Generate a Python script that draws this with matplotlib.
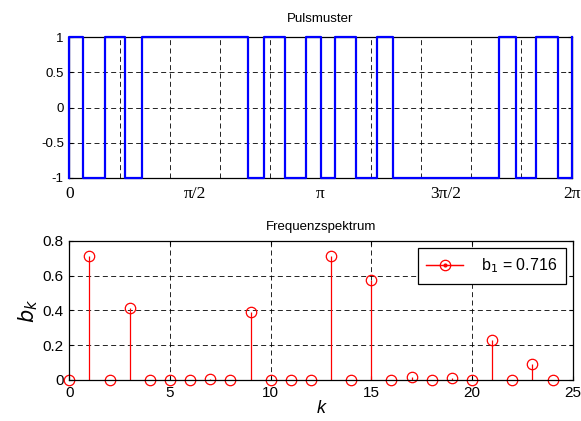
import numpy as np
import matplotlib
matplotlib.use("Agg")
import matplotlib.pyplot as plt
from matplotlib.lines import Line2D
from matplotlib.legend_handler import HandlerLine2D, HandlerTuple

# ---------------- data ----------------
# switching angles (rad) of the pulse pattern
switch_angles = [0.172, 0.442, 0.697, 0.906, 2.238, 2.437, 2.702, 2.962,
                 np.pi, 3.321, 3.580, 3.846, 4.045, 5.377, 5.586, 5.841, 6.111]
start_level = 1

k_values = list(range(25))
b_values = [0.0, 0.716, 0.0, 0.413, 0.0, 0.0, 0.0, 0.008, 0.0, 0.391,
            0.0, 0.0, 0.0, 0.714, 0.0, 0.574, 0.0, 0.019, 0.0, 0.013,
            0.0, 0.232, 0.0, 0.092, 0.0]

pi_tick_pos = [0, np.pi / 2, np.pi, 3 * np.pi / 2, 2 * np.pi]
pi_tick_labels = ["0", "π/2", "π", "3π/2", "2π"]
grid_pos_top = [i * 0.2 * np.pi for i in range(11)]
yticks_top = [-1, -0.5, 0, 0.5, 1]
yticklabels_top = ["-1", "-0.5", "0", "0.5", "1"]
xticks_bot = [0, 5, 10, 15, 20, 25]
yticks_bot = [0, 0.2, 0.4, 0.6, 0.8]
yticklabels_bot = ["0", "0.2", "0.4", "0.6", "0.8"]

# ---------------- style ----------------
plt.rcParams['font.family'] = ['Liberation Sans', 'DejaVu Sans']
grid_kw = dict(color='black', linestyle=(0, (6, 4)), linewidth=0.6)

fig = plt.figure(figsize=(5.81, 4.21), dpi=100)
fig.patch.set_facecolor('white')

# ---------------- top: pulse pattern ----------------
ax1 = fig.add_axes([0.1193, 0.5779, 0.8647, 0.3335])
bounds = [0.0] + switch_angles + [2 * np.pi]
xs, ys = [0.0], [-start_level]
lvl = start_level
for a, b in zip(bounds[:-1], bounds[1:]):
    xs += [a, b]
    ys += [lvl, lvl]
    lvl = -lvl
xs.append(2 * np.pi)
ys.append(start_level)
ax1.plot(xs, ys, color='#0000ff', linewidth=1.6, clip_on=False, zorder=3)
ax1.set_xlim(0, 2 * np.pi)
ax1.set_ylim(-1, 1)
ax1.xaxis.remove_overlapping_locs = False
ax1.set_xticks(grid_pos_top)
ax1.set_xticklabels([])
ax1.set_xticks(pi_tick_pos, minor=True)
ax1.set_xticklabels(pi_tick_labels, minor=True, fontfamily='Liberation Serif', fontsize=12.5)
ax1.tick_params(axis='x', which='minor', length=0, pad=6)
ax1.tick_params(axis='x', which='major', length=0)
ax1.set_yticks(yticks_top)
ax1.set_yticklabels(yticklabels_top, fontsize=9.5)
ax1.tick_params(axis='y', direction='in', length=3, pad=4, right=True)
ax1.grid(True, which='major', **grid_kw)
ax1.set_title("Pulsmuster", fontsize=9.5, pad=11)
for s in ax1.spines.values():
    s.set_linewidth(0.9)

# ---------------- bottom: spectrum ----------------
ax2 = fig.add_axes([0.1193, 0.0974, 0.8664, 0.3302])
markerline, stemlines, baseline = ax2.stem(k_values, b_values, linefmt='r-', markerfmt='o', basefmt=' ')
markerline.set_markerfacecolor('none')
markerline.set_markeredgecolor('red')
markerline.set_markersize(7.5)
markerline.set_markeredgewidth(0.9)
markerline.set_clip_on(False)
stemlines.set_linewidth(0.9)
stemlines.set_color('red')
ax2.set_xlim(0, 25)
ax2.set_ylim(0, 0.8)
ax2.set_xticks(xticks_bot)
ax2.set_yticks(yticks_bot)
ax2.set_yticklabels(yticklabels_bot)
ax2.tick_params(labelsize=11, direction='in', length=3, top=True, right=True, pad=4)
ax2.grid(True, **grid_kw)
ax2.set_axisbelow(True)
ax2.set_title("Frequenzspektrum", fontsize=9.5, pad=8)
ax2.set_xlabel("k", fontsize=13, fontstyle='italic', labelpad=0)
ax2.set_ylabel("$b_k$", fontsize=15, labelpad=2)
for s in ax2.spines.values():
    s.set_linewidth(0.9)


class EndMarkerHandler(HandlerLine2D):
    def get_xdata(self, legend, xdescent, ydescent, width, height, fontsize):
        xdata = np.array([-xdescent, -xdescent + width])
        xmark = np.array([-xdescent + width])
        return xdata, xmark


h_circ = Line2D([], [], color='red', linewidth=0.9, marker='o', markersize=7.5,
                markerfacecolor='none', markeredgecolor='red', markeredgewidth=0.9)
h_dot = Line2D([], [], color='red', linewidth=0.9, marker='.', markersize=4,
               markerfacecolor='red', markeredgecolor='red')
leg = ax2.legend([(h_circ, h_dot)], ["b$_1$ = 0.716"],
                 handler_map={Line2D: EndMarkerHandler(numpoints=1),
                              tuple: HandlerTuple(ndivide=1)},
                 loc='upper right', bbox_to_anchor=(0.986, 0.95),
                 fontsize=11.5, fancybox=False, framealpha=1, edgecolor='black',
                 handlelength=2.3, borderpad=0.55, handletextpad=1.1, borderaxespad=0)
leg.get_frame().set_linewidth(0.9)

fig.savefig("out.png", dpi=100, facecolor='white')
